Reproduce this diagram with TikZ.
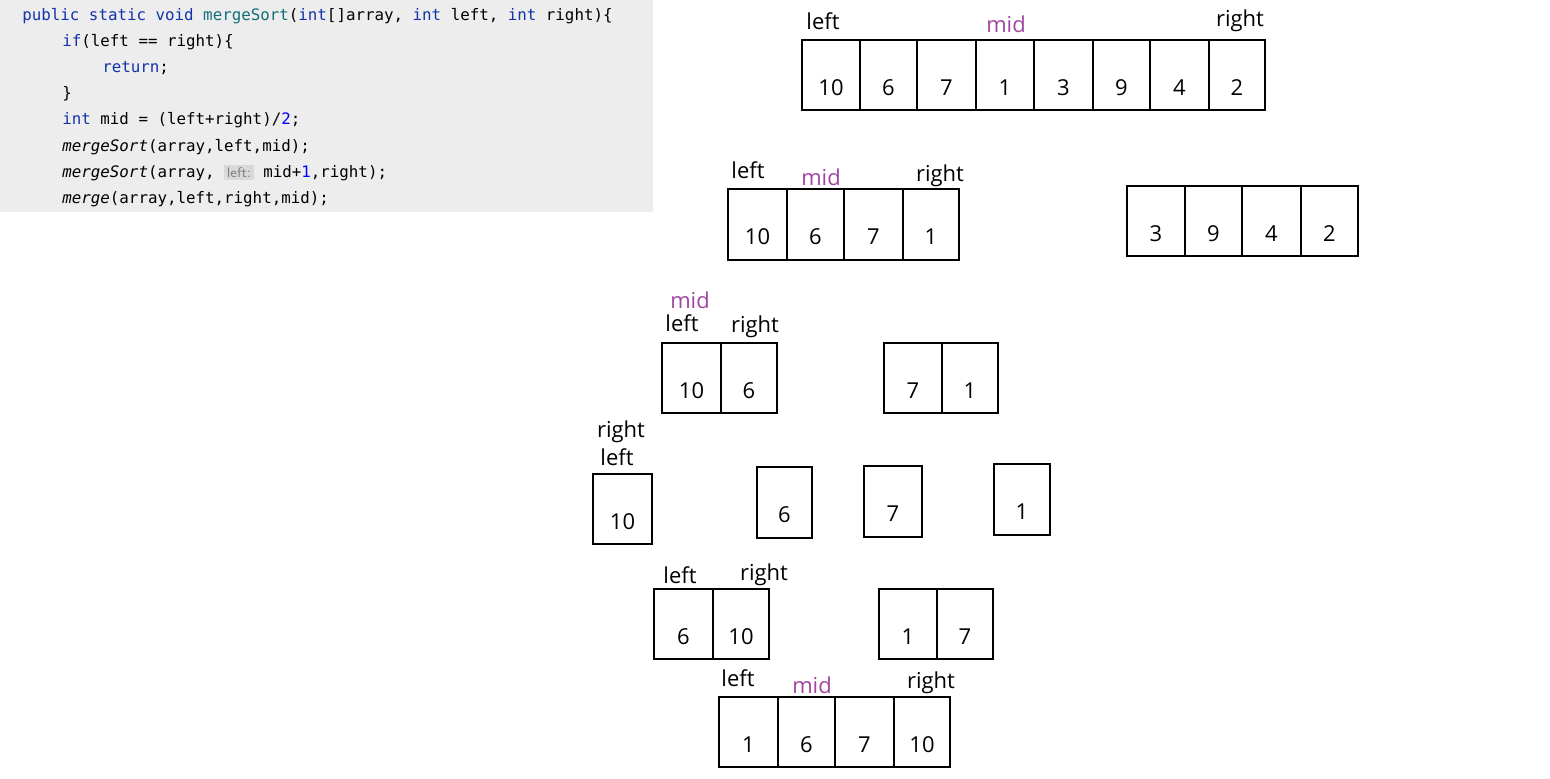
\documentclass[tikz,border=0pt]{standalone}
\usepackage{fontspec}
\setmainfont{Open Sans}
\newfontfamily\codefont{DejaVu Sans Mono}
\definecolor{midpurple}{RGB}{160,70,160}
\definecolor{kwblue}{RGB}{20,50,170}
\definecolor{fnteal}{RGB}{20,110,120}
\begin{document}
\begin{tikzpicture}[
	x=0.02cm, y=-0.02cm,
	cell/.style={rectangle,draw=black,line width=1.6pt,inner sep=0pt},
	lbl/.style={font=\fontsize{12.5}{14}\selectfont,inner sep=0pt},
	midlbl/.style={lbl,text=midpurple},
	code/.style={font=\codefont\fontsize{9}{10}\selectfont,anchor=west,inner sep=0pt}
	]
	\useasboundingbox (0,0) rectangle (1550,778);
	% code panel
	\fill[gray!14] (0,0) rectangle (653,212);
	\node[code] (l1) at (22,16) {\textcolor{kwblue}{public static void} \textcolor{fnteal}{mergeSort}(\textcolor{kwblue}{int}[]array, \textcolor{kwblue}{int} left, \textcolor{kwblue}{int} right)\{};
	\node[code] (l2) at (62,42) {\textcolor{kwblue}{if}(left == right)\{};
	\node[code] (l3) at (102,68) {\textcolor{kwblue}{return};};
	\node[code] (l4) at (62,94) {\}};
	\node[code] (l5) at (62,120) {\textcolor{kwblue}{int} mid = (left+right)/\textcolor{blue}{2};};
	\node[code] (l6) at (62,147) {\textit{mergeSort}(array,left,mid);};
	\node[code] (l7) at (62,173) {\textit{mergeSort}(array, {\setlength{\fboxsep}{1.5pt}\colorbox{gray!30}{\textcolor{gray}{\sffamily\fontsize{8}{9}\selectfont left:}}} mid+\textcolor{blue}{1},right);};
	\node[code] (l8) at (62,199) {\textit{merge}(array,left,right,mid);};
	% cells: x1/x2/y1/y2/value
	\foreach \a/\b/\t/\u/\n [count=\i] in {
		802/860/40/110/10, 860/917/40/110/6, 917/976/40/110/7, 976/1034/40/110/1,
		1034/1093/40/110/3, 1093/1150/40/110/9, 1150/1209/40/110/4, 1209/1265/40/110/2,
		728/787/189/260/10, 787/844/189/260/6, 844/903/189/260/7, 903/959/189/260/1,
		1127/1185/186/256/3, 1185/1242/186/256/9, 1242/1301/186/256/4, 1301/1358/186/256/2,
		662/721/343/413/10, 721/777/343/413/6, 884/942/343/413/7, 942/998/343/413/1,
		593/652/474/544/10, 757/812/467/538/6, 864/922/466/537/7, 994/1050/464/535/1,
		654/713/589/659/6, 713/769/589/659/10, 879/937/589/659/1, 937/993/589/659/7,
		719/778/697/767/1, 778/835/697/767/6, 835/894/697/767/7, 894/950/697/767/10}
		\node[cell, minimum width={(\b-\a)*0.02cm}, minimum height={(\u-\t)*0.02cm},
			label={[lbl,yshift=-7pt]center:\n}] (c\i) at ({(\a+\b)/2},{(\t+\u)/2}) {};
	% pointer labels
	\node[lbl] (left1) at (823,21) {left};
	\node[midlbl] (mid1) at (1006,24) {mid};
	\node[lbl] (right1) at (1240,21) {right};
	\node[lbl] (left2) at (748,170) {left};
	\node[midlbl] (mid2) at (821,177) {mid};
	\node[lbl] (right2) at (940,176) {right};
	\node[midlbl] (mid3) at (690,300) {mid};
	\node[lbl] (left3) at (682,323) {left};
	\node[lbl] (right3) at (755,327) {right};
	\node[lbl] (right4) at (621,432) {right};
	\node[lbl] (left4) at (617,457) {left};
	\node[lbl] (left5) at (680,575) {left};
	\node[lbl] (right5) at (764,575) {right};
	\node[lbl] (left6) at (738,678) {left};
	\node[midlbl] (mid6) at (812,685) {mid};
	\node[lbl] (right6) at (931,683) {right};
\end{tikzpicture}
\end{document}
